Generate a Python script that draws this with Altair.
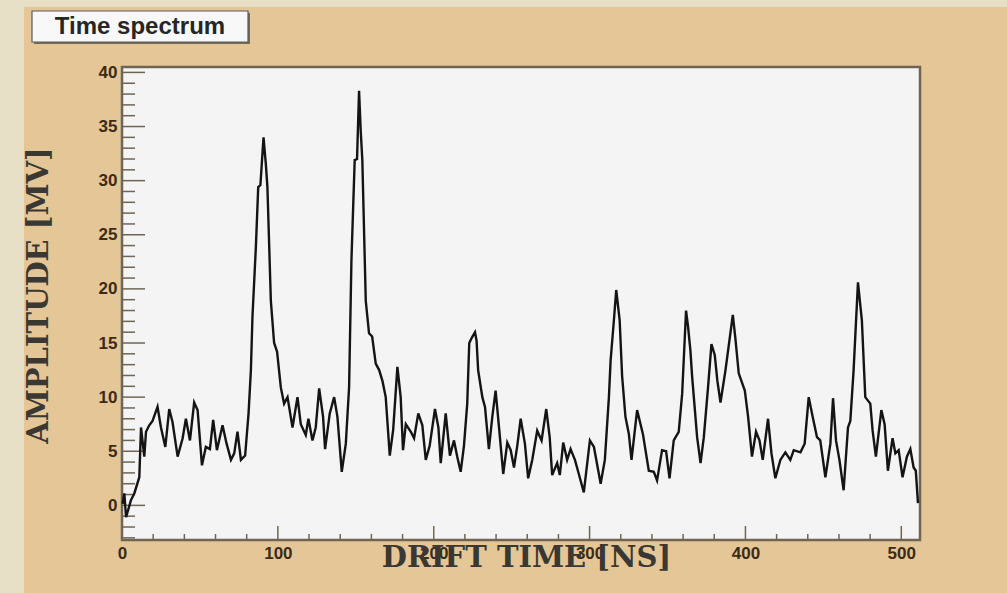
import altair as alt
import pandas as pd

# ---- data ----
drift_time = [0.4, 1.5, 2.6, 5.8, 7.9, 11.1, 12.2, 14.3, 15.4, 17.5, 19.6, 22.8, 25.0, 27.8,
              30.3, 32.4, 35.7, 38.9, 41.0, 43.6, 46.3, 48.5, 51.3, 53.8, 56.4, 58.5, 60.9,
              64.5, 67.1, 69.9, 72.0, 74.1, 76.3, 79.0, 81.2, 82.7, 83.7, 85.9, 87.4, 88.8,
              90.8, 92.3, 93.3, 95.5, 97.6, 99.5, 101.9, 104.0, 106.2, 109.4, 112.6, 114.7,
              117.9, 119.6, 122.2, 124.3, 126.5, 129.0, 130.3, 133.3, 136.1, 138.2, 141.0,
              143.6, 145.7, 147.2, 149.3, 150.8, 152.1, 153.2, 154.2, 156.4, 158.5, 160.5,
              162.8, 165.0, 167.1, 169.2, 171.8, 174.0, 176.7, 178.8, 180.3, 182.1, 185.3,
              187.4, 190.1, 192.7, 194.9, 197.4, 200.8, 203.0, 204.5, 207.7, 210.4, 213.0,
              215.1, 217.3, 219.4, 221.5, 222.8, 224.5, 226.5, 227.5, 228.5, 231.2, 232.9,
              235.4, 237.6, 239.7, 241.9, 244.6, 247.2, 249.4, 251.5, 253.6, 255.8, 258.5,
              260.6, 263.2, 266.4, 269.2, 272.2, 274.4, 276.0, 279.2, 280.9, 283.1, 285.6,
              287.8, 290.6, 293.1, 296.3, 300.2, 302.8, 307.1, 309.8, 312.4, 313.5, 315.6,
              317.1, 319.3, 320.9, 323.0, 325.2, 326.9, 330.5, 334.2, 338.0, 341.2, 343.3,
              346.5, 349.1, 351.3, 354.0, 357.2, 359.4, 361.9, 363.2, 364.7, 365.8, 369.0,
              371.2, 373.3, 376.0, 378.2, 380.3, 382.0, 384.0, 387.2, 391.9, 393.5, 395.7,
              399.6, 401.7, 404.2, 406.8, 409.0, 411.1, 414.5, 416.7, 419.2, 422.4, 425.6,
              428.8, 431.0, 435.3, 438.0, 440.6, 443.1, 445.9, 448.0, 451.3, 454.5, 456.2,
              458.1, 460.3, 463.0, 465.8, 467.3, 469.4, 472.2, 474.7, 476.9, 480.1, 481.6,
              483.7, 487.2, 489.3, 491.4, 494.4, 496.2, 498.3, 500.8, 503.6, 505.8, 507.9,
              509.3, 510.7]
amplitude = [0.15, 1.1, -1.1, 0.5, 1.1, 2.6, 7.2, 4.5, 6.8, 7.4, 7.8, 9.1, 7.2, 5.4,
             8.9, 7.7, 4.5, 6.2, 8.0, 6.0, 9.5, 8.8, 3.7, 5.4, 5.2, 7.9, 5.1,
             7.4, 5.7, 4.2, 4.8, 6.8, 4.2, 4.6, 8.5, 12.5, 17.4, 23.9, 29.4, 29.6,
             34.0, 31.5, 29.4, 18.9, 15.0, 14.2, 10.9, 9.4, 10.0, 7.2, 10.0, 7.5,
             6.5, 8.0, 6.0, 7.2, 10.8, 8.2, 5.2, 8.5, 10.0, 8.2, 3.1,
             5.7, 10.9, 22.6, 31.9, 32.0, 38.3, 34.5, 31.9, 18.9, 15.9, 15.6,
             13.1, 12.5, 11.5, 10.0, 4.6, 7.0, 12.8, 10.0, 5.1, 7.5, 6.8,
             6.2, 8.5, 7.4, 4.2, 5.5, 8.9, 7.2, 3.9, 8.5, 4.6, 6.0,
             4.5, 3.1, 5.5, 9.4, 15.0, 15.5, 16.0, 15.2, 12.5, 10.0, 9.1,
             5.2, 8.2, 10.6, 7.2, 2.9, 5.8, 5.1, 3.5, 5.5, 8.0, 5.7,
             2.5, 4.2, 6.9, 6.0, 8.9, 6.3, 2.8, 3.9, 2.8, 5.8, 4.2,
             5.2, 4.2, 2.9, 1.2, 6.0, 5.4, 2.0, 4.2, 10.0, 13.4, 17.1,
             19.9, 17.1, 11.9, 8.2, 6.6, 4.2, 8.8, 6.6, 3.2, 3.1, 2.3,
             5.1, 5.0, 2.5, 6.0, 6.8, 10.3, 18.0, 16.5, 14.3, 11.9, 6.3,
             3.9, 6.3, 10.9, 14.9, 13.9, 11.5, 9.5, 12.5, 17.6, 15.5, 12.2,
             10.6, 8.2, 4.5, 6.8, 6.0, 4.2, 8.0, 4.8, 2.5, 4.2, 4.9,
             4.2, 5.1, 4.9, 5.7, 10.0, 8.2, 6.3, 6.0, 2.6, 5.7, 9.9,
             6.0, 4.2, 1.4, 7.2, 7.8, 12.5, 20.6, 17.1, 10.0, 9.4, 6.9,
             4.5, 8.8, 7.5, 3.2, 6.2, 4.8, 5.1, 2.6, 4.5, 5.2, 3.5,
             3.2, 0.2]

x_labels = [0, 100, 200, 300, 400, 500]
y_labels = [0, 5, 10, 15, 20, 25, 30, 35, 40]
x_minor_ticks = [20, 40, 60, 80, 120, 140, 160, 180, 220, 240, 260, 280,
                 320, 340, 360, 380, 420, 440, 460, 480]
x_major_ticks = [100, 200, 300, 400, 500]
y_minor_ticks = [v for v in range(-3, 41) if v % 5 != 0]
y_major_ticks = [0, 5, 10, 15, 20, 25, 30, 35, 40]

title_text = "Time spectrum"
x_title = "DRIFT TIME [NS]"
y_title = "AMPLITUDE [MV]"

W, H = 798, 473

df = pd.DataFrame({"t": drift_time, "amp": amplitude})
one = pd.DataFrame({"k": [0]})

xscale = alt.Scale(domain=[0, 512], nice=False, zero=False)
yscale = alt.Scale(domain=[-3.2, 40.5], nice=False, zero=False)

label_color = "#3b2b15"
title_color = "#3a3833"
xaxis = alt.Axis(values=x_labels, ticks=False, domain=False, grid=False,
                 labelFont="Liberation Sans", labelFontWeight="bold", labelFontSize=17,
                 labelColor=label_color, labelPadding=5, labelFlush=False, zindex=1,
                 title=x_title, titleFont="DejaVu Serif", titleFontWeight="bold",
                 titleFontSize=29, titleColor=title_color, titleBaseline="alphabetic",
                 titleAlign="center", titleX=404, titleY=26)
yaxis = alt.Axis(values=y_labels, ticks=False, domain=False, grid=False,
                 labelFont="Liberation Sans", labelFontWeight="bold", labelFontSize=17,
                 labelColor=label_color, labelPadding=5, zindex=1,
                 title=y_title, titleFont="DejaVu Serif", titleFontWeight="bold",
                 titleFontSize=29, titleColor=title_color, titleBaseline="middle",
                 titleAlign="center", titleAngle=270, titleX=-84, titleY=228)

# decorative panels
tan = alt.Chart(one).mark_rect(color="#e5c696").encode(
    x=alt.value(-98), x2=alt.value(885), y=alt.value(-60), y2=alt.value(526))
frame = alt.Chart(one).mark_rect(fill="#f4f4f4", stroke="#6f6555", strokeWidth=2.5).encode(
    x=alt.value(0), x2=alt.value(W), y=alt.value(0), y2=alt.value(H))
box_shadow = alt.Chart(one).mark_rect(color="#7a6a52").encode(
    x=alt.value(-88), x2=alt.value(128), y=alt.value(-54), y2=alt.value(-23))
box = alt.Chart(one).mark_rect(fill="#f8f8f8", stroke="#5a5a5a", strokeWidth=1.2).encode(
    x=alt.value(-90), x2=alt.value(126), y=alt.value(-56), y2=alt.value(-25))
box_text = alt.Chart(one).mark_text(text=title_text, font="Liberation Sans", fontWeight="bold",
                                   fontSize=24, color="#262626", baseline="middle",
                                   align="center").encode(
    x=alt.value(18), y=alt.value(-40))

# ticks drawn inside the frame (ROOT style)
tick_color = "#6f6555"
xt_minor = alt.Chart(pd.DataFrame({"t": x_minor_ticks})).mark_rule(color=tick_color, strokeWidth=1.5).encode(
    x=alt.X("t:Q", scale=xscale, axis=xaxis), y=alt.value(H), y2=alt.value(H - 6))
xt_major = alt.Chart(pd.DataFrame({"t": x_major_ticks})).mark_rule(color=tick_color, strokeWidth=1.5).encode(
    x=alt.X("t:Q", scale=xscale, axis=xaxis), y=alt.value(H), y2=alt.value(H - 14))
yt_minor = alt.Chart(pd.DataFrame({"amp": y_minor_ticks})).mark_rule(color=tick_color, strokeWidth=1.5).encode(
    y=alt.Y("amp:Q", scale=yscale, axis=yaxis), x=alt.value(0), x2=alt.value(13))
yt_major = alt.Chart(pd.DataFrame({"amp": y_major_ticks})).mark_rule(color=tick_color, strokeWidth=1.5).encode(
    y=alt.Y("amp:Q", scale=yscale, axis=yaxis), x=alt.value(0), x2=alt.value(23))

line = alt.Chart(df).mark_line(color="#141414", strokeWidth=2.4, interpolate="linear").encode(
    x=alt.X("t:Q", scale=xscale, axis=xaxis),
    y=alt.Y("amp:Q", scale=yscale, axis=yaxis))

chart = alt.layer(tan, frame, box_shadow, box, box_text, xt_minor, xt_major, yt_minor, yt_major, line).properties(
    width=W, height=H,
    autosize=alt.AutoSizeParams(type="none"),
    padding={"left": 122, "top": 67, "right": 87, "bottom": 53},
    background="#e7e0c6",
).configure_view(stroke=None, fill=None)

chart.save("out.html", embed_options={"renderer": "svg", "actions": False})
